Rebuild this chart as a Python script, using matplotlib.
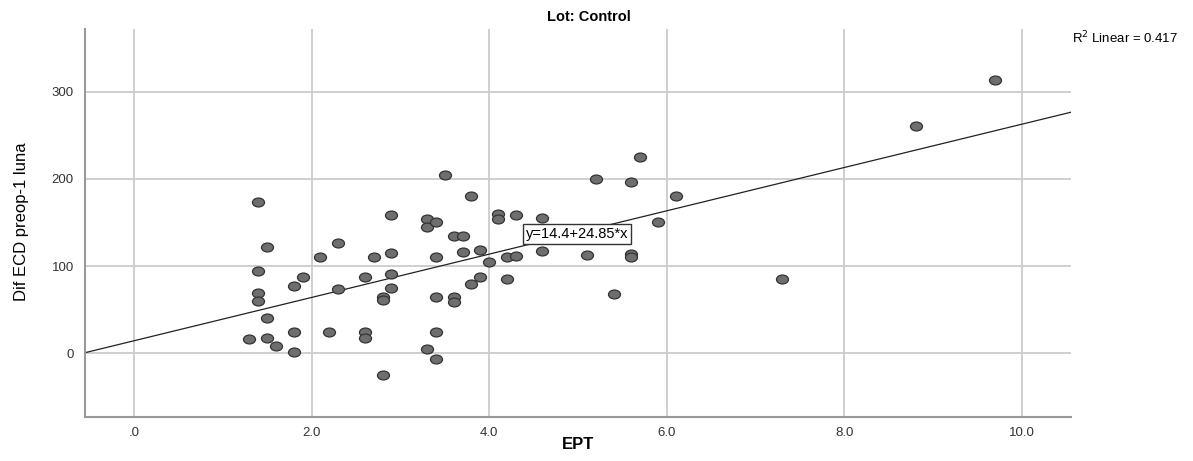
import matplotlib
matplotlib.use("Agg")
import matplotlib.pyplot as plt
import numpy as np
from matplotlib.path import Path
from matplotlib.transforms import Affine2D

ept = [1.3, 1.4, 1.4, 1.4, 1.4, 1.5, 1.5, 1.5, 1.6, 1.8, 1.8, 1.8, 1.9,
       2.1, 2.2, 2.3, 2.3, 2.6, 2.6, 2.6, 2.7, 2.8, 2.8, 2.8,
       2.9, 2.9, 2.9, 2.9, 3.3, 3.3, 3.3, 3.4, 3.4, 3.4, 3.4, 3.4,
       3.5, 3.6, 3.6, 3.6, 3.7, 3.7, 3.8, 3.8, 3.9, 3.9, 4.0,
       4.1, 4.1, 4.2, 4.2, 4.3, 4.3, 4.6, 4.6,
       5.1, 5.2, 5.4, 5.6, 5.6, 5.6, 5.7, 5.9, 6.1, 7.3, 8.8, 9.7]
dif_ecd = [17, 174, 95, 69, 60, 122, 41, 18, 9, 77, 25, 2, 87,
           111, 24, 127, 74, 87, 24, 18, 110, 65, 61, -25,
           159, 115, 91, 75, 154, 145, 5, 151, 110, 65, 25, -7,
           205, 135, 65, 59, 116, 135, 180, 80, 118, 88, 105,
           160, 154, 111, 85, 159, 112, 155, 117,
           113, 200, 68, 196, 114, 111, 225, 151, 181, 85, 261, 313]

intercept = 14.4
slope = 24.85
r2_text = "R$^2$ Linear = 0.417"
eq_text = "y=14.4+24.85*x"

xticks = [0, 2, 4, 6, 8, 10]
xticklabels = [".0", "2.0", "4.0", "6.0", "8.0", "10.0"]
yticks = [0, 100, 200, 300]
yticklabels = ["0", "100", "200", "300"]

plt.rcParams['font.family'] = ['Liberation Sans', 'DejaVu Sans']

fig = plt.figure(figsize=(11.93, 4.61), dpi=100)
ax = fig.add_axes([85/1193, 1-417/461, (1071-85)/1193, (417-29)/461])

xlim = (-0.55, 10.55)
ylim = (-73, 372)
ax.set_xlim(*xlim)
ax.set_ylim(*ylim)

ax.set_xticks(xticks)
ax.set_xticklabels(xticklabels)
ax.set_yticks(yticks)
ax.set_yticklabels(yticklabels)
ax.tick_params(length=0, labelsize=9.5, colors='#333333')
ax.tick_params(axis='x', pad=7)
ax.tick_params(axis='y', pad=8)
ax.grid(True, color='#cccccc', linewidth=1.3)
ax.set_axisbelow(True)
for s in ['top', 'right']:
    ax.spines[s].set_visible(False)
for s in ['left', 'bottom']:
    ax.spines[s].set_color('#999999')
    ax.spines[s].set_linewidth(1.5)

# fit line
xs = np.array(xlim)
ax.plot(xs, intercept + slope * xs, color='#222222', linewidth=0.9, zorder=2)

# ellipse marker
ell = Path.unit_circle().transformed(Affine2D().scale(1.35, 1.0))
ax.scatter(ept, dif_ecd, marker=ell, s=75, facecolor='#6e6e6e',
           edgecolor='#333333', linewidth=0.9, zorder=3)

ax.text(4.99, 137, eq_text, fontsize=10.5, ha='center', va='center', zorder=4,
        bbox=dict(boxstyle='square,pad=0.2', facecolor='white',
                  edgecolor='#333333', linewidth=1))

fig.text(589/1193, 1-17/461, "Lot: Control", ha='center', va='center',
         fontsize=10.5, fontweight='bold')
fig.text(1072/1193, 1-38/461, r2_text, ha='left', va='center', fontsize=9.5)

fig.text(578/1193, 1-444/461, "EPT", ha='center', va='center',
         fontsize=12, fontweight='bold',
         family=['Liberation Sans Narrow', 'Liberation Sans'])
fig.text(22/1193, 1-222/461, "Dif ECD preop-1 luna", rotation=90,
         ha='center', va='center', fontsize=12,
         family=['Liberation Sans Narrow', 'Liberation Sans'])

fig.savefig("out.png", dpi=100, facecolor='white')
